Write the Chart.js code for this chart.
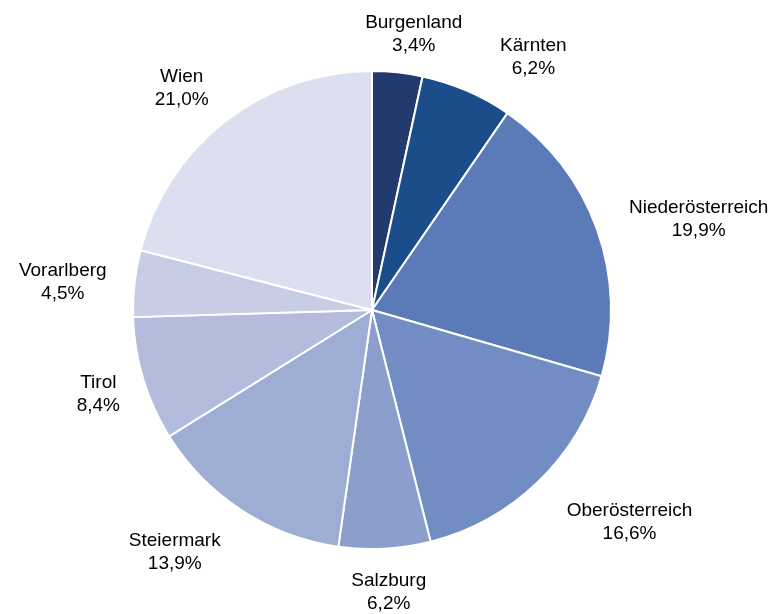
<!DOCTYPE html>
<html>
<head>
<meta charset="utf-8">
<script src="https://cdn.jsdelivr.net/npm/chart.js@4"></script>
<style>
  html, body { margin: 0; padding: 0; background: #fff; }
  #wrap { width: 781px; height: 614px; }
</style>
</head>
<body>
<div id="wrap"><canvas id="pie" width="781" height="614"></canvas></div>
<script>
// ── Data ──────────────────────────────────────────────────────────────────────
const REGIONS = ['Burgenland', 'Kärnten', 'Niederösterreich', 'Oberösterreich',
                 'Salzburg', 'Steiermark', 'Tirol', 'Vorarlberg', 'Wien'];
const SHARES  = [3.4, 6.2, 19.9, 16.6, 6.2, 13.9, 8.4, 4.5, 21.0];
const COLORS  = ['#233a6e', '#1b4d8b', '#5b7ab8', '#728dc4', '#8c9fcc',
                 '#9eadd3', '#b3bcdd', '#c8cde6', '#dcdff0'];

const fmtPct = v => v.toFixed(1).replace('.', ',') + '%';

// ── Outside labels (Excel-style: box edge just beyond the rim) ──────────────
const FONT = '19px "Liberation Sans", Arial, sans-serif';
const LINE_H = 23;
const GAP = 18;
// Excel's "best fit" shifts a few labels along the rim; small pixel nudges.
const NUDGE = [[4, 3], [33, 6], [15, 11], [16, 5], [-1, 3], [-11, 4], [-6, -3], [-10, 6], [-6, 4]];

const outsideLabels = {
  id: 'outsideLabels',
  afterDatasetsDraw(chart) {
    const ctx = chart.ctx;
    const arcs = chart.getDatasetMeta(0).data;
    ctx.save();
    ctx.font = FONT;
    ctx.fillStyle = '#000';
    ctx.textAlign = 'center';
    ctx.textBaseline = 'middle';
    arcs.forEach((arc, i) => {
      const { x, y, startAngle, endAngle, outerRadius } = arc.getProps(
        ['x', 'y', 'startAngle', 'endAngle', 'outerRadius'], true);
      const mid = (startAngle + endAngle) / 2;
      const dx = Math.cos(mid), dy = Math.sin(mid);
      const lines = [REGIONS[i], fmtPct(SHARES[i])];
      const w = Math.max(...lines.map(l => ctx.measureText(l).width));
      const h = LINE_H * lines.length;
      const clamp = v => Math.max(-1, Math.min(1, v * 2));
      const px = x + dx * (outerRadius + GAP);
      const py = y + dy * (outerRadius + GAP);
      const cx = px + clamp(dx) * w / 2 + NUDGE[i][0];
      const cy = py + clamp(dy) * h / 2 + NUDGE[i][1];
      lines.forEach((l, k) => {
        ctx.fillText(l, cx, cy + (k - (lines.length - 1) / 2) * LINE_H);
      });
    });
    ctx.restore();
  },
};

// ── Chart ─────────────────────────────────────────────────────────────────────
new Chart(document.getElementById('pie'), {
  type: 'pie',
  data: {
    labels: REGIONS,
    datasets: [{
      data: SHARES,
      backgroundColor: COLORS,
      borderColor: '#ffffff',
      borderWidth: 2,
    }],
  },
  options: {
    responsive: false,
    animation: false,
    layout: { padding: { left: 132, right: 169, top: 70, bottom: 64 } },
    plugins: {
      legend: { display: false },
      tooltip: { enabled: false },
    },
  },
  plugins: [outsideLabels],
});
</script>
</body>
</html>
